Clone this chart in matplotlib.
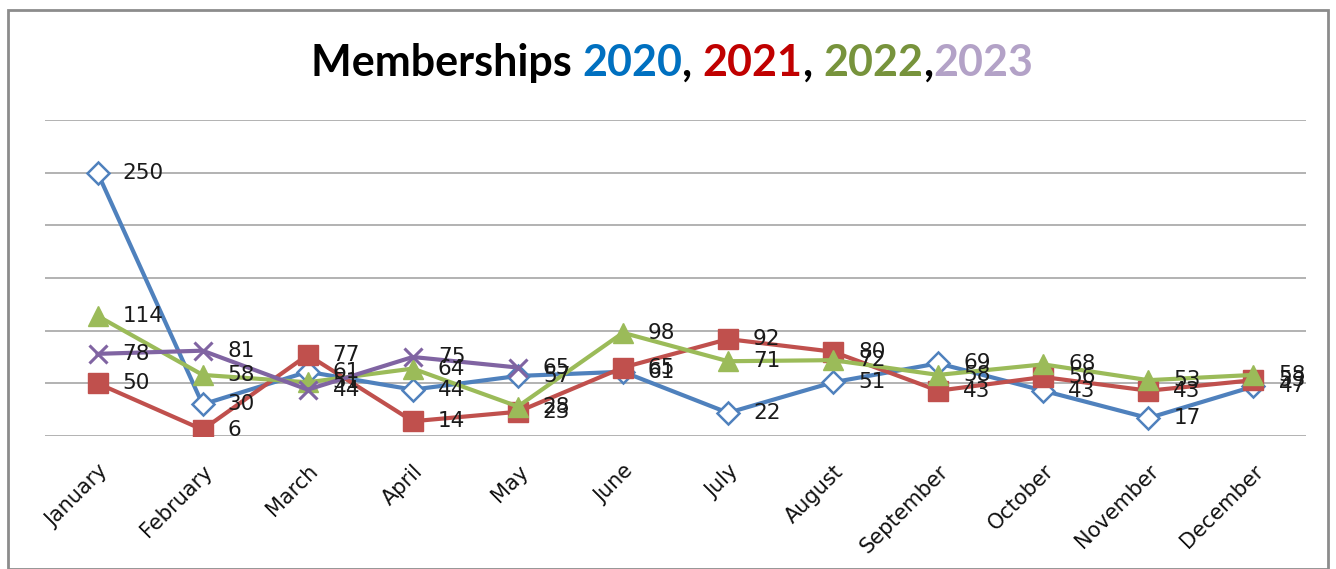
import matplotlib
matplotlib.use("Agg")
import matplotlib.pyplot as plt
from matplotlib.patches import Rectangle

months = ["January", "February", "March", "April", "May", "June", "July",
          "August", "September", "October", "November", "December"]

m2020 = [250, 30, 61, 44, 57, 61, 22, 51, 69, 43, 17, 47]
m2021 = [50, 6, 77, 14, 23, 65, 92, 80, 43, 56, 43, 53]
m2022 = [114, 58, 51, 64, 28, 98, 71, 72, 58, 68, 53, 58]
m2023 = [78, 81, 44, 75, 65]

series = [
    (m2020, "#4F81BD", dict(marker="D", markersize=11, markerfacecolor="white",
                            markeredgecolor="#4F81BD", markeredgewidth=1.8)),
    (m2021, "#C0504D", dict(marker="s", markersize=14.5, markerfacecolor="#C0504D",
                            markeredgecolor="#C0504D")),
    (m2022, "#9BBB59", dict(marker="^", markersize=15, markerfacecolor="#9BBB59",
                            markeredgecolor="#9BBB59")),
    (m2023, "#8064A2", dict(marker="x", markersize=13, markeredgewidth=2.2,
                            markeredgecolor="#8064A2")),
]

fig = plt.figure(figsize=(13.36, 5.69), dpi=100)
ax = fig.add_axes([45 / 1336, 133 / 569, 1261 / 1336, 316 / 569])

# outer chart border
fig.patches.append(Rectangle((8 / 1336, 0), 1320 / 1336, 559 / 569, transform=fig.transFigure,
                             fill=False, edgecolor="#8C8C8C", linewidth=2, zorder=0))

for values, color, mk in series:
    xs = list(range(len(values)))
    ax.plot(xs, values, color=color, linewidth=3, zorder=3, **mk)
    for x, v in zip(xs, values):
        ax.annotate(str(v), (x, v), xytext=(18, 0), textcoords="offset points",
                    ha="left", va="center", fontsize=15.5, color="#1a1a1a", zorder=5)

ax.set_xlim(-0.5, 11.5)
ax.set_ylim(0, 300)
ax.set_yticks(range(0, 301, 50))
ax.yaxis.grid(True, color="#A6A6A6", linewidth=1.2)
ax.set_axisbelow(True)
ax.tick_params(axis="y", left=False, labelleft=False)
ax.tick_params(axis="x", length=0, pad=18)
for s in ax.spines.values():
    s.set_visible(False)
ax.set_xticks(range(12))
ax.set_xticklabels(months, rotation=45, ha="right", rotation_mode="anchor",
                   fontsize=15, color="#111111")

# multi-coloured title
parts = [("Memberships ", "black"), ("2020", "#0070C0"), (", ", "black"),
         ("2021", "#C00000"), (", ", "black"), ("2022", "#77933C"),
         (",", "black"), ("2023", "#B3A2C7")]
fig.canvas.draw()
renderer = fig.canvas.get_renderer()
texts = []
for s, c in parts:
    t = fig.text(0, 0, s, color=c, fontsize=31, fontweight="bold", family="Lato",
                 va="baseline", ha="left")
    texts.append(t)
widths = [t.get_window_extent(renderer).width for t in texts]
total = sum(widths)
x0 = 672 - total / 2
base_y = 1 - 76 / 569
for t, w in zip(texts, widths):
    t.set_position((x0 / 1336, base_y))
    x0 += w

fig.savefig("out.png", dpi=100)
